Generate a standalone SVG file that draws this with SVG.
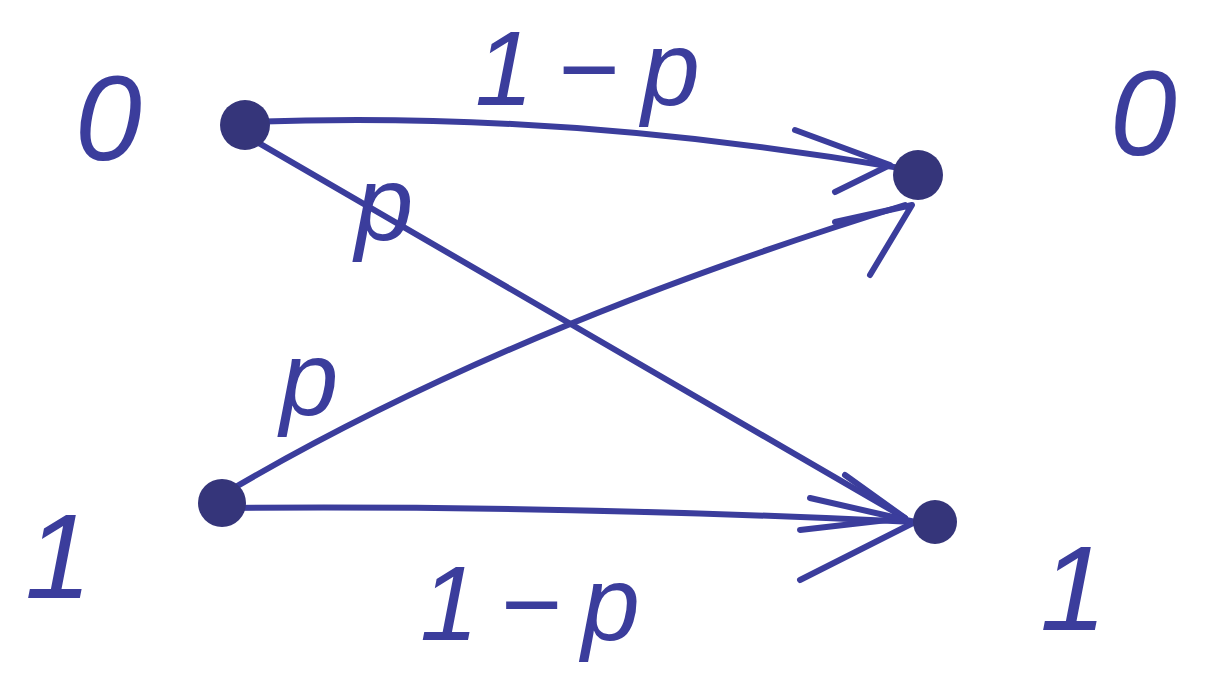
<svg xmlns="http://www.w3.org/2000/svg" width="1215" height="694" viewBox="0 0 1215 694">
<style>
.lbl{font-family:"Liberation Sans",sans-serif;font-style:italic;fill:#3b3d9c;}
.big{font-size:120px;}
.mid{font-size:105px;}
.edge{fill:none;stroke:#3b3d9c;stroke-width:6;stroke-linecap:round;stroke-linejoin:round;}
.dot{fill:#35357a;}
</style>
<rect width="1215" height="694" fill="#ffffff"/>
<g id="connectors">
<path class="edge" d="M250,122 Q560,110 900,168"/>
<polyline class="edge" points="795,130 890,165 835,192"/>
<path class="edge" d="M245,135 L905,518"/>
<polyline class="edge" points="845,475 905,518 800,530"/>
<path class="edge" d="M222,495 Q500,330 905,205"/>
<polyline class="edge" points="835,222 912,205 870,275"/>
<path class="edge" d="M222,508 Q560,505 915,522"/>
<polyline class="edge" points="810,498 915,522 800,580"/>
</g>
<g id="in0"><circle class="dot" cx="245" cy="125" r="25"/><text class="lbl big" x="75" y="160">0</text></g>
<g id="in1"><circle class="dot" cx="222" cy="503" r="24"/><text class="lbl big" x="25" y="598">1</text></g>
<g id="out0"><circle class="dot" cx="918" cy="175" r="25"/><text class="lbl big" x="1110" y="155">0</text></g>
<g id="out1"><circle class="dot" cx="935" cy="522" r="22"/><text class="lbl big" x="1040" y="630">1</text></g>
<g id="labels">
<text class="lbl mid" x="475" y="105" textLength="225">1 − p</text>
<text class="lbl mid" x="355" y="240">p</text>
<text class="lbl mid" x="280" y="415">p</text>
<text class="lbl mid" x="420" y="640" textLength="220">1 − p</text>
</g>
</svg>
